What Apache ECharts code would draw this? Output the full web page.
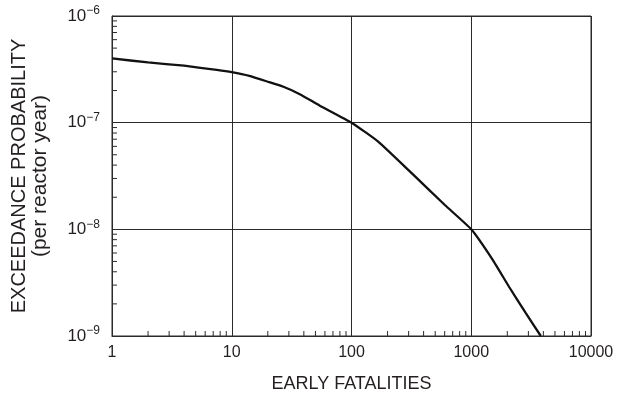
<!DOCTYPE html>
<html>
<head>
<meta charset="utf-8">
<script src="https://cdn.jsdelivr.net/npm/echarts@6/dist/echarts.min.js"></script>
<style>
  html, body { margin: 0; padding: 0; background: #fff; }
  #chart { width: 617px; height: 394px; }
</style>
</head>
<body>
<div id="chart"></div>
<script>
// curve
var fatalities = [1, 2, 4, 7.5, 10, 14, 20, 27, 37, 54, 100, 167, 318, 602, 1000, 1506, 2073, 2856, 3810]
var probability = [4.0e-7, 3.67e-7, 3.42e-7, 3.12e-7, 2.97e-7, 2.74e-7, 2.42e-7, 2.17e-7, 1.85e-7, 1.45e-7, 1.0e-7,
  6.64e-8, 3.36e-8, 1.69e-8, 1.0e-8, 5.2e-9, 2.88e-9, 1.64e-9, 1.0e-9]

// minor tick positions (2..9 in each decade)
var xMinorTicks = [2, 3, 4, 5, 6, 7, 8, 9, 20, 30, 40, 50, 60, 70, 80, 90,
  200, 300, 400, 500, 600, 700, 800, 900, 2000, 3000, 4000, 5000, 6000, 7000, 8000, 9000]
var yMinorTicks = [2e-9, 3e-9, 4e-9, 5e-9, 6e-9, 7e-9, 8e-9, 9e-9,
  2e-8, 3e-8, 4e-8, 5e-8, 6e-8, 7e-8, 8e-8, 9e-8,
  2e-7, 3e-7, 4e-7, 5e-7, 6e-7, 7e-7, 8e-7, 9e-7]

var X_MIN = 1, X_MAX = 10000
var Y_MIN = 1e-9, Y_MAX = 1e-6

var FONT = '"Liberation Sans", Arial, sans-serif'
var TEXT = '#231f20'
var LINE = '#2a2a2a'

var chart = echarts.init(document.getElementById('chart'))

var option = {
  animation: false,
  textStyle: { fontFamily: FONT, color: TEXT },
  grid: {
    left: 112, top: 16, right: 26, bottom: 58,
    containLabel: false, outerBoundsMode: 'none',
    show: true, borderColor: LINE, borderWidth: 1
  },
  xAxis: {
    type: 'log', logBase: 10, min: X_MIN, max: X_MAX,
    name: 'EARLY FATALITIES', nameLocation: 'middle', nameGap: 39,
    nameTextStyle: { fontSize: 18, color: TEXT, fontFamily: FONT },
    axisLine: { show: true, lineStyle: { color: LINE, width: 1 } },
    axisTick: { show: false },
    axisLabel: {
      fontSize: 16, color: TEXT, margin: 9, fontFamily: FONT,
      formatter: function (v) { return String(v) }
    },
    splitLine: { show: true, lineStyle: { color: LINE, width: 1 } }
  },
  yAxis: {
    type: 'log', logBase: 10, min: Y_MIN, max: Y_MAX,
    name: '{a|EXCEEDANCE PROBABILITY}\n{b|(per reactor year)}',
    nameLocation: 'middle', nameRotate: 90, nameGap: 61,
    nameTextStyle: {
      color: TEXT, fontFamily: FONT,
      rich: {
        a: { fontSize: 20, lineHeight: 21, color: TEXT, fontFamily: FONT },
        b: { fontSize: 21, lineHeight: 21, color: TEXT, fontFamily: FONT }
      }
    },
    axisLine: { show: true, lineStyle: { color: LINE, width: 1 } },
    axisTick: { show: false },
    axisLabel: {
      margin: 12,
      formatter: function (v) {
        var e = Math.round(Math.log10(v))
        return '{b|10}{s|\u2212' + Math.abs(e) + '}'
      },
      rich: {
        b: { fontSize: 17, color: TEXT, fontFamily: FONT },
        s: { fontSize: 12, color: TEXT, fontFamily: FONT, padding: [0, 0, 10, 0] }
      }
    },
    splitLine: { show: true, lineStyle: { color: LINE, width: 1 } }
  },
  series: [
    {
      type: 'custom',
      silent: true,
      data: xMinorTicks.map(function (v) { return [v, Y_MIN] }),
      renderItem: function (params, api) {
        var p = api.coord([api.value(0), api.value(1)])
        return {
          type: 'line',
          shape: { x1: p[0], y1: p[1], x2: p[0], y2: p[1] - 5 },
          style: { stroke: LINE, lineWidth: 1 }
        }
      }
    },
    {
      type: 'custom',
      silent: true,
      data: yMinorTicks.map(function (v) { return [X_MIN, v] }),
      renderItem: function (params, api) {
        var p = api.coord([api.value(0), api.value(1)])
        return {
          type: 'line',
          shape: { x1: p[0], y1: p[1], x2: p[0] + 5, y2: p[1] },
          style: { stroke: LINE, lineWidth: 1 }
        }
      }
    },
    {
      type: 'line',
      data: fatalities.map(function (f, i) { return [f, probability[i]] }),
      symbol: 'none',
      smooth: 0.15,
      lineStyle: { color: '#111', width: 2.3 }
    }
  ]
}

chart.setOption(option)
</script>
</body>
</html>
